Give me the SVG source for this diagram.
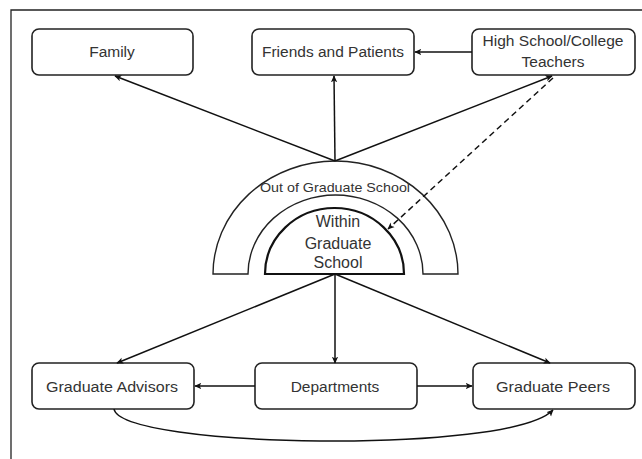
<svg xmlns="http://www.w3.org/2000/svg" width="642" height="459" viewBox="0 0 642 459">
<style>
.box{fill:#fff;stroke:#222;stroke-width:1.6}
.lbl{font-family:"Liberation Sans",Arial,sans-serif;font-size:15.5px;fill:#333;text-anchor:middle}
.arc{fill:#fff;stroke:#222;stroke-width:1.4}
.conn{fill:none;stroke:#111;stroke-width:1.5}
.dash{stroke-dasharray:6,4}
</style>
<defs>
<marker id="ah" viewBox="0 0 10 10" refX="9" refY="5" markerWidth="7" markerHeight="7" markerUnits="userSpaceOnUse" orient="auto">
<path d="M0,0.5 L10,5 L0,9.5 L2.5,5 Z" fill="#111"/>
</marker>
</defs>
<rect width="642" height="459" fill="#fff"/>
<g id="frame">
<path d="M11,459 L11,10 L642,10" fill="none" stroke="#222" stroke-width="1.3"/>
</g>
<g id="arch-out">
<path class="arc" d="M213,274 A122.5,113 0 0 1 458,274 L423,274 A87.5,79 0 0 0 248,274 Z"/>
<text class="lbl" x="335" y="192" textLength="150" lengthAdjust="spacingAndGlyphs" style="font-size:13.5px">Out of Graduate School</text>
</g>
<g id="arch-in">
<path d="M265,274 A69.5,66 0 0 1 404,274 Z" fill="#fff" stroke="#111" stroke-width="2.2"/>
<text class="lbl" x="338" y="227" style="font-size:16px">Within</text>
<text class="lbl" x="338" y="249" style="font-size:16px">Graduate</text>
<text class="lbl" x="338" y="268" style="font-size:16px">School</text>
</g>
<g id="family">
<rect class="box" x="32" y="29" width="161" height="46" rx="7"/>
<text class="lbl" x="112" y="57">Family</text>
</g>
<g id="friends">
<rect class="box" x="252" y="29" width="162" height="46" rx="7"/>
<text class="lbl" x="333" y="57" textLength="142" lengthAdjust="spacingAndGlyphs">Friends and Patients</text>
</g>
<g id="teachers">
<rect class="box" x="472" y="29" width="163" height="46" rx="7"/>
<text class="lbl" x="553" y="46" textLength="141" lengthAdjust="spacingAndGlyphs">High School/College</text>
<text class="lbl" x="553" y="67">Teachers</text>
</g>
<g id="advisors">
<rect class="box" x="32" y="363" width="162" height="46" rx="7"/>
<text class="lbl" x="112" y="392" textLength="132" lengthAdjust="spacingAndGlyphs">Graduate Advisors</text>
</g>
<g id="departments">
<rect class="box" x="255" y="363" width="162" height="46" rx="7"/>
<text class="lbl" x="335" y="392">Departments</text>
</g>
<g id="peers">
<rect class="box" x="473" y="363" width="162" height="46" rx="7"/>
<text class="lbl" x="553" y="392" textLength="114" lengthAdjust="spacingAndGlyphs">Graduate Peers</text>
</g>
<g id="connectors">
<line class="conn" x1="335" y1="161" x2="115" y2="76" marker-end="url(#ah)"/>
<line class="conn" x1="335" y1="161" x2="334" y2="76" marker-end="url(#ah)"/>
<line class="conn" x1="335" y1="161" x2="552" y2="76" marker-end="url(#ah)"/>
<line class="conn" x1="472" y1="52" x2="415" y2="52" marker-end="url(#ah)"/>
<line class="conn dash" x1="553" y1="78" x2="388" y2="229" marker-end="url(#ah)"/>
<line class="conn" x1="335" y1="274" x2="117" y2="363" marker-end="url(#ah)"/>
<line class="conn" x1="335" y1="274" x2="335" y2="363" marker-end="url(#ah)"/>
<line class="conn" x1="335" y1="274" x2="550" y2="363" marker-end="url(#ah)"/>
<line class="conn" x1="255" y1="386" x2="195" y2="386" marker-end="url(#ah)"/>
<line class="conn" x1="417" y1="386" x2="472" y2="386" marker-end="url(#ah)"/>
<path class="conn" d="M114,409 C120,448 510,455 553,410" marker-end="url(#ah)"/>
</g>
</svg>
